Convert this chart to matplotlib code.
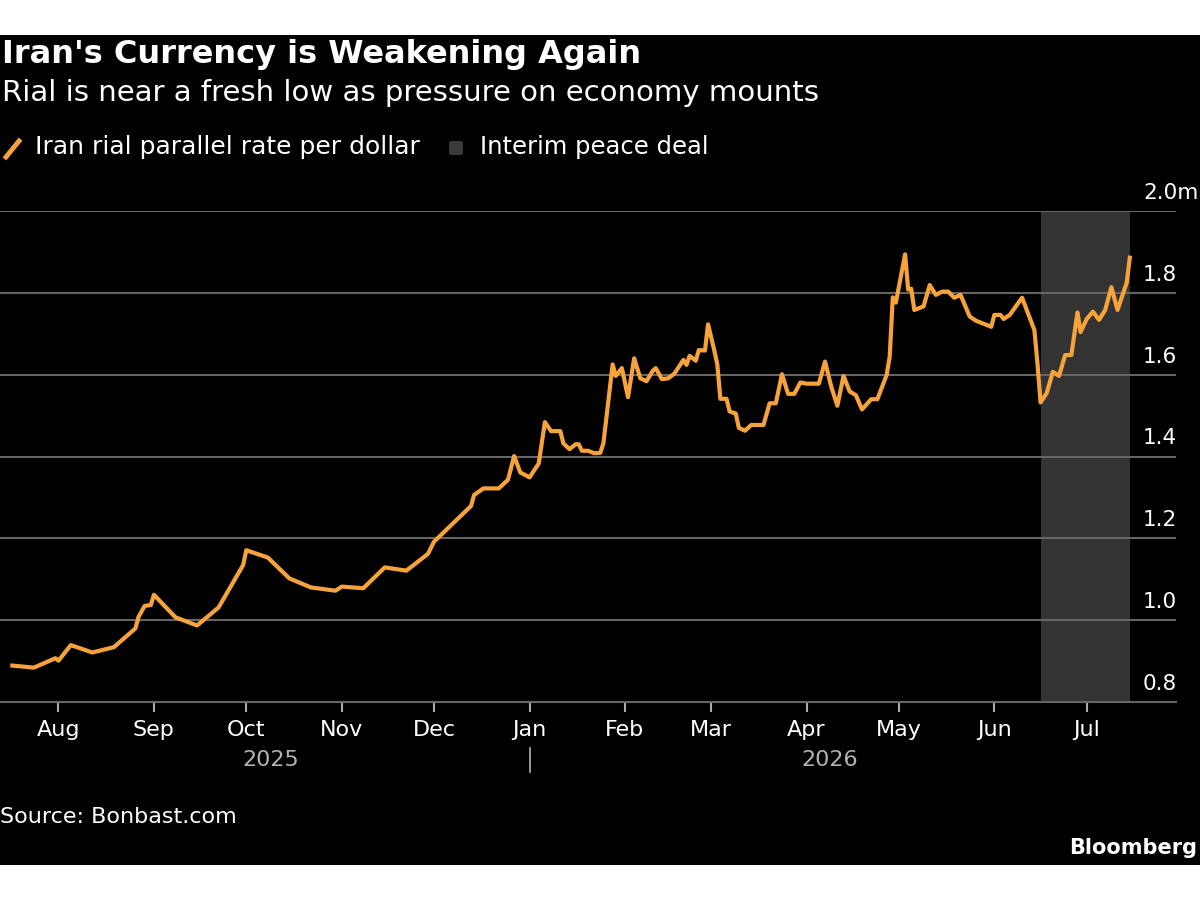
import matplotlib
matplotlib.use("Agg")
import matplotlib.pyplot as plt
import matplotlib.dates as mdates
import matplotlib.transforms as mtransforms
from matplotlib.patches import Rectangle, FancyBboxPatch
from matplotlib.lines import Line2D
import pandas as pd

plt.rcParams['font.family'] = ['DejaVu Sans']

# rial parallel rate, million per dollar
dates = [
    "2025-07-17", "2025-07-24", "2025-07-31", "2025-08-01", "2025-08-05", "2025-08-12",
    "2025-08-19", "2025-08-26", "2025-08-27", "2025-08-29", "2025-08-31", "2025-09-01",
    "2025-09-08", "2025-09-15", "2025-09-22", "2025-09-30", "2025-10-01", "2025-10-08",
    "2025-10-15", "2025-10-22", "2025-10-30", "2025-11-01", "2025-11-08", "2025-11-15",
    "2025-11-22", "2025-11-29", "2025-12-01", "2025-12-13", "2025-12-14", "2025-12-17",
    "2025-12-22", "2025-12-25", "2025-12-27", "2025-12-29", "2026-01-01", "2026-01-04",
    "2026-01-06", "2026-01-08", "2026-01-11", "2026-01-12", "2026-01-14", "2026-01-16",
    "2026-01-17", "2026-01-18", "2026-01-20", "2026-01-22", "2026-01-24", "2026-01-25",
    "2026-01-28", "2026-01-29", "2026-01-31", "2026-02-02", "2026-02-04", "2026-02-06",
    "2026-02-08", "2026-02-10", "2026-02-11", "2026-02-13", "2026-02-15", "2026-02-17",
    "2026-02-20", "2026-02-21", "2026-02-22", "2026-02-24", "2026-02-25", "2026-02-27",
    "2026-02-28", "2026-03-02", "2026-03-03", "2026-03-04", "2026-03-06", "2026-03-07",
    "2026-03-09", "2026-03-10", "2026-03-12", "2026-03-14", "2026-03-18", "2026-03-20",
    "2026-03-22", "2026-03-24", "2026-03-26", "2026-03-28", "2026-03-30", "2026-04-01",
    "2026-04-05", "2026-04-07", "2026-04-09", "2026-04-11", "2026-04-13", "2026-04-15",
    "2026-04-17", "2026-04-19", "2026-04-22", "2026-04-24", "2026-04-27", "2026-04-28",
    "2026-04-29", "2026-04-30", "2026-05-03", "2026-05-04", "2026-05-05", "2026-05-06",
    "2026-05-09", "2026-05-11", "2026-05-13", "2026-05-15", "2026-05-17", "2026-05-19",
    "2026-05-21", "2026-05-24", "2026-05-26", "2026-05-31", "2026-06-01", "2026-06-03",
    "2026-06-04", "2026-06-06", "2026-06-10", "2026-06-14", "2026-06-15", "2026-06-16",
    "2026-06-18", "2026-06-20", "2026-06-22", "2026-06-24", "2026-06-26", "2026-06-28",
    "2026-06-29", "2026-07-01", "2026-07-03", "2026-07-05", "2026-07-07", "2026-07-09",
    "2026-07-11", "2026-07-14", "2026-07-15",
]
rate = [
    0.889, 0.884, 0.907, 0.901, 0.939, 0.921,
    0.934, 0.980, 1.008, 1.035, 1.037, 1.062,
    1.007, 0.987, 1.031, 1.135, 1.171, 1.153,
    1.102, 1.080, 1.072, 1.082, 1.078, 1.129,
    1.121, 1.162, 1.192, 1.279, 1.306, 1.322,
    1.322, 1.343, 1.401, 1.361, 1.349, 1.383,
    1.484, 1.462, 1.462, 1.432, 1.418, 1.430,
    1.430, 1.414, 1.414, 1.408, 1.409, 1.432,
    1.625, 1.597, 1.616, 1.545, 1.640, 1.591,
    1.584, 1.609, 1.616, 1.589, 1.591, 1.602,
    1.636, 1.624, 1.646, 1.634, 1.660, 1.659,
    1.723, 1.660, 1.625, 1.541, 1.541, 1.510,
    1.505, 1.470, 1.463, 1.477, 1.477, 1.530,
    1.530, 1.601, 1.553, 1.553, 1.581, 1.578,
    1.578, 1.632, 1.571, 1.524, 1.597, 1.559,
    1.550, 1.515, 1.540, 1.540, 1.599, 1.644,
    1.789, 1.776, 1.894, 1.808, 1.810, 1.758,
    1.767, 1.819, 1.795, 1.803, 1.803, 1.788,
    1.795, 1.742, 1.732, 1.717, 1.746, 1.746,
    1.736, 1.746, 1.788, 1.709, 1.628, 1.532,
    1.555, 1.607, 1.597, 1.648, 1.648, 1.752,
    1.704, 1.736, 1.754, 1.734, 1.758, 1.814,
    1.758, 1.825, 1.886,
]
deal_start = "2026-06-16"
deal_end = "2026-07-15"
yticks = [0.8, 1.0, 1.2, 1.4, 1.6, 1.8, 2.0]
ytick_labels = ["0.8", "1.0", "1.2", "1.4", "1.6", "1.8", "2.0m"]

title = "Iran's Currency is Weakening Again"
subtitle = "Rial is near a fresh low as pressure on economy mounts"
series_name = "Iran rial parallel rate per dollar"
span_name = "Interim peace deal"
source = "Source: Bonbast.com"

ORANGE = '#F7A33B'
GRID = '#656565'

d = pd.to_datetime(dates)

fig = plt.figure(figsize=(12, 9), dpi=100, facecolor='white')
# black card
fig.patches.append(Rectangle((0, 1 - 865/900), 1, (865 - 35)/900, transform=fig.transFigure,
                             facecolor='black', edgecolor='none', zorder=-5))

ax = fig.add_axes([0, 1 - 702/900, 1176/1200, (702 - 211)/900])
ax.set_facecolor('black')
ax.patch.set_alpha(0)

ax.axvspan(pd.Timestamp(deal_start), pd.Timestamp(deal_end), color='#333333', lw=0, zorder=1)
ax.plot(d, rate, color=ORANGE, lw=3, solid_joinstyle='round', zorder=3)

ax.set_ylim(0.8, 2.0)
ax.set_xlim(pd.Timestamp("2025-07-13"), pd.Timestamp("2026-07-30"))
for v in yticks[1:]:
    ax.axhline(v, color=GRID, lw=1.5, zorder=2)
ax.set_yticks([])

lab_tr = mtransforms.blended_transform_factory(ax.transAxes, ax.transData)
lab_tr = lab_tr + mtransforms.ScaledTranslation(0, 8/100, fig.dpi_scale_trans)
for v, s in zip(yticks, ytick_labels):
    ax.text(1143/1176, v, s, transform=lab_tr, ha='left', va='bottom',
            color='white', fontsize=15.5)

for sp in ['top', 'left', 'right']:
    ax.spines[sp].set_visible(False)
ax.spines['bottom'].set_color(GRID)
ax.spines['bottom'].set_linewidth(1.5)
ax.spines['bottom'].set_zorder(2)

ax.xaxis.set_major_locator(mdates.MonthLocator())
ax.xaxis.set_major_formatter(mdates.DateFormatter('%b'))
ax.tick_params(axis='x', colors='white', labelsize=16, length=7, width=1.5, pad=6)
ax.tick_params(axis='x', which='major', color='#aaaaaa')

# year labels under the months
jan1 = pd.Timestamp("2026-01-01")
first, last = d[0], d[-1]
yr_tr = mtransforms.blended_transform_factory(ax.transData, fig.transFigure)
ax.text(first + (jan1 - first) / 2, 1 - 760/900, "2025", transform=yr_tr,
        ha='center', va='center', color='#b3b3b3', fontsize=16)
ax.text(jan1 + (last - jan1) / 2, 1 - 760/900, "2026", transform=yr_tr,
        ha='center', va='center', color='#b3b3b3', fontsize=16)
ax.add_line(Line2D([jan1, jan1], [1 - 748/900, 1 - 772/900], transform=yr_tr,
                   color='#b3b3b3', lw=1.2, clip_on=False))

# titles
fig.text(0.002, 1 - 55/900, title, color='white', fontsize=23, fontweight='bold',
         ha='left', va='center')
fig.text(0.002, 1 - 93/900, subtitle, color='white', fontsize=21, ha='left', va='center')

# legend
fig.add_artist(Line2D([6/1200, 19/1200], [1 - 157/900, 1 - 141/900], color=ORANGE,
                      lw=3.5, transform=fig.transFigure))
fig.text(35/1200, 1 - 147/900, series_name, color='white', fontsize=18, ha='left', va='center')
fig.add_artist(FancyBboxPatch((449/1200, 1 - 155/900), 14/1200, 14/900,
                              boxstyle='round,pad=0,rounding_size=0.002',
                              transform=fig.transFigure, facecolor='#3a3a3a', edgecolor='none'))
fig.text(480/1200, 1 - 147/900, span_name, color='white', fontsize=17.5, ha='left', va='center')

fig.text(0.0, 1 - 817/900, source, color='white', fontsize=16, ha='left', va='center')
fig.text(1197/1200, 1 - 848/900, "Bloomberg", color='white', fontsize=15, fontweight='bold',
         ha='right', va='center')

fig.savefig('out.png', dpi=100, facecolor='white')
